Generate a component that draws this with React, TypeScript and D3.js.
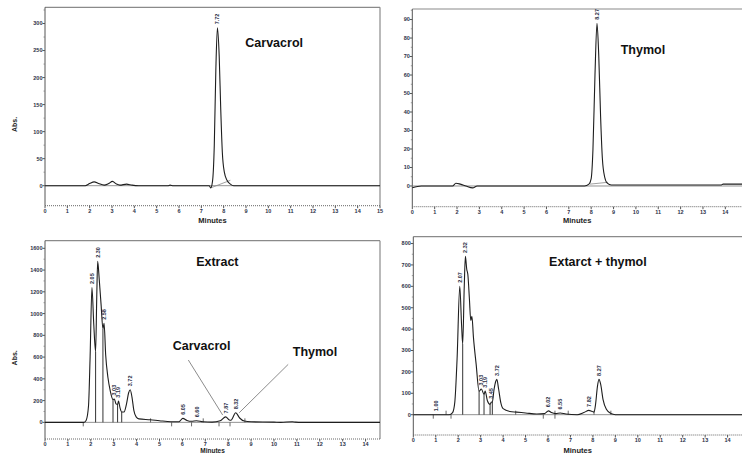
import React from 'react';
import * as d3 from 'd3';

type Pt = [number, number];

// ---------- values (time in minutes, absorbance) ----------
const carvacrolTrace: Pt[] = [[0, 0], [1.8, 0], [2.0, 4], [2.2, 7], [2.4, 4], [2.65, 1], [2.85, 4], [3.02, 8], [3.2, 3], [3.35, 1], [3.65, 3], [3.9, 1], [4.2, 0], [5.5, 0], [5.6, 1], [5.75, 0], [7.35, 0], [7.42, -4], [7.5, 8], [7.58, 75], [7.65, 215], [7.72, 292], [7.8, 240], [7.87, 140], [7.94, 62], [8.03, 25], [8.15, 10], [8.3, 3], [8.45, 0], [15, 0]];
const carvacrolPeaks: [number, number, string][] = [[7.72, 292, '7.72']];
const carvacrolBase: [Pt, Pt][] = [[[7.42, -4], [8.3, 10]]];

const thymolTrace: Pt[] = [[0, -1], [0.4, 0], [1.8, 0], [1.95, 1.5], [2.15, 1], [2.4, 0], [2.7, -1], [2.9, 0], [7.7, 0], [7.9, 1], [8.0, 4], [8.08, 20], [8.17, 60], [8.26, 88], [8.34, 70], [8.42, 38], [8.5, 15], [8.6, 5], [8.72, 1.5], [8.9, 0.5], [13.8, 0.5], [13.9, 1], [15, 1]];
const thymolPeaks: [number, number, string][] = [[8.26, 88, '8.27']];
const thymolBase: [Pt, Pt][] = [[[7.95, 1], [8.75, 2]]];

const extractTrace: Pt[] = [[0, 0], [1.7, 0], [1.8, 20], [1.9, 150], [1.97, 600], [2.05, 1240], [2.13, 900], [2.21, 650], [2.26, 1150], [2.3, 1480], [2.37, 1310], [2.45, 1080], [2.53, 860], [2.58, 910], [2.65, 620], [2.75, 410], [2.85, 290], [2.97, 210], [3.03, 215], [3.1, 170], [3.17, 165], [3.21, 195], [3.28, 130], [3.35, 95], [3.45, 95], [3.56, 170], [3.65, 270], [3.72, 300], [3.8, 230], [3.88, 110], [3.98, 50], [4.1, 32], [4.6, 24], [5.0, 15], [5.5, 6], [5.85, 6], [6.02, 37], [6.2, 18], [6.4, 10], [6.62, 15], [6.9, 5], [7.3, 2], [7.65, 14], [7.89, 50], [8.05, 22], [8.12, 20], [8.33, 88], [8.5, 40], [8.7, 12], [9.0, 5], [10.0, 2], [10.3, 0], [10.8, 6], [10.95, 2], [11.2, 0], [14.63, 0]];
const extractPeaks: [number, number, string][] = [[2.05, 1240, '2.05'], [2.3, 1480, '2.30'], [2.58, 910, '2.58'], [3.03, 215, '3.03'], [3.2, 195, '3.19'], [3.72, 300, '3.72'], [6.04, 37, '6.05'], [6.62, 15, '6.60'], [7.89, 50, '7.87'], [8.33, 88, '8.32']];
const extractDrops: Pt[] = [[2.21, 650], [2.53, 860], [2.97, 210], [3.17, 165], [3.35, 95]];
const extractMarks: Pt[] = [[1.67, -1], [4.61, 1], [5.53, -1], [6.4, -1], [6.91, 1], [7.6, -1], [8.08, -1], [8.73, 1]];

const mixTrace: Pt[] = [[0, 0], [1.6, 0], [1.75, 10], [1.85, 60], [1.95, 260], [2.07, 600], [2.15, 420], [2.2, 330], [2.27, 600], [2.32, 740], [2.38, 680], [2.43, 655], [2.5, 540], [2.56, 440], [2.61, 460], [2.68, 360], [2.8, 235], [2.93, 110], [3.03, 120], [3.15, 95], [3.2, 110], [3.3, 65], [3.42, 48], [3.47, 58], [3.52, 60], [3.6, 120], [3.67, 155], [3.72, 165], [3.8, 120], [3.9, 55], [4.0, 28], [4.3, 15], [4.6, 12], [5.0, 8], [5.5, 3], [5.85, 5], [6.02, 18], [6.15, 10], [6.35, 5], [6.55, 8], [6.8, 3], [7.3, 0], [7.6, 10], [7.82, 20], [7.95, 16], [8.05, 12], [8.12, 50], [8.2, 130], [8.27, 165], [8.35, 140], [8.45, 72], [8.6, 25], [8.8, 5], [9.0, 0], [15, 0]];
const mixPeaks: [number, number, string][] = [[1.0, 0, '1.00'], [2.07, 600, '2.07'], [2.32, 740, '2.32'], [3.03, 120, '3.03'], [3.2, 110, '3.19'], [3.45, 58, '3.45'], [3.72, 165, '3.72'], [6.02, 18, '6.02'], [6.55, 8, '6.55'], [7.82, 20, '7.82'], [8.27, 165, '8.27']];
const mixDrops: Pt[] = [[2.2, 330], [2.93, 110], [3.15, 95], [3.42, 48], [3.52, 60]];
const mixMarks: Pt[] = [[0.89, -1], [1.46, 1], [1.68, -1], [4.56, 1], [5.79, -1], [6.31, -1], [6.31, 1], [6.9, 1], [8.05, 1], [8.8, 1]];

const ticks1 = [0, 50, 100, 150, 200, 250, 300];
const ticks2 = [0, 10, 20, 30, 40, 50, 60, 70, 80, 90];
const ticks3 = [0, 200, 400, 600, 800, 1000, 1200, 1400, 1600];
const ticks4 = [0, 100, 200, 300, 400, 500, 600, 700, 800];
const minuteTicks = d3.range(0, 16);

interface Note { text: string; at: Pt; to?: Pt; from?: Pt }
interface PanelCfg {
  left: number; right: number; top: number; bottom: number;
  xDomain: [number, number]; yDomain: [number, number];
  yTicks: number[]; trace: Pt[]; peaks: [number, number, string][];
  drops?: Pt[]; marks?: Pt[]; base?: [Pt, Pt][];
  title: string; titleAt: Pt; notes?: Note[];
  absLabel: boolean; frameRight: boolean; minutesY: number; minutesSize: number;
}

const W = 742;

const panels: PanelCfg[] = [
  { left: 45, right: 380, top: 7.3, bottom: 205.7, xDomain: [0, 15], yDomain: [-37, 330], yTicks: ticks1, trace: carvacrolTrace, peaks: carvacrolPeaks, base: carvacrolBase, title: 'Carvacrol', titleAt: [8.97, 256], absLabel: true, frameRight: true, minutesY: 222.5, minutesSize: 7.5 },
  { left: 412.3, right: 412.3 + 15 * 22.36, top: 9, bottom: 206.7, xDomain: [0, 15], yDomain: [-11.2, 95.7], yTicks: ticks2, trace: thymolTrace, peaks: thymolPeaks, base: thymolBase, title: 'Thymol', titleAt: [9.32, 71.3], absLabel: false, frameRight: false, minutesY: 222.5, minutesSize: 7.5 },
  { left: 45, right: 380, top: 240.7, bottom: 439, xDomain: [0, 14.63], yDomain: [-153, 1670], yTicks: ticks3, trace: extractTrace, peaks: extractPeaks, drops: extractDrops, marks: extractMarks, title: 'Extract', titleAt: [6.6, 1437], absLabel: true, frameRight: true, minutesY: 453.2, minutesSize: 6.5,
    notes: [{ text: 'Carvacrol', at: [5.58, 664], from: [6.26, 573], to: [7.76, 67] }, { text: 'Thymol', at: [10.82, 611], from: [10.62, 533], to: [8.48, 88] }] },
  { left: 413.3, right: 413.3 + 15 * 22.45, top: 236.7, bottom: 435, xDomain: [0, 15], yDomain: [-95, 832], yTicks: ticks4, trace: mixTrace, peaks: mixPeaks, drops: mixDrops, marks: mixMarks, title: 'Extarct + thymol', titleAt: [6.05, 697], absLabel: false, frameRight: false, minutesY: 452.5, minutesSize: 7.5 },
];

const font = 'Liberation Sans, Arial, sans-serif';
const tickColor = '#2c3148';

function Panel({ p }: { p: PanelCfg }) {
  const x = d3.scaleLinear().domain(p.xDomain).range([p.left, p.right]);
  const y = d3.scaleLinear().domain(p.yDomain).range([p.bottom, p.top]);
  const line = d3.line<Pt>().x(d => x(d[0])).y(d => y(d[1])).curve(d3.curveMonotoneX);
  const step = p.yTicks[1] - p.yTicks[0];
  const minor = p.yTicks.map(t => t + step / 2).filter(t => y(t) > p.top);
  const xt = minuteTicks.filter(t => t <= p.xDomain[1] && x(t) < W - 4);
  const cx = (p.left + Math.min(p.right, W)) / 2;
  return (
    <g>
      {/* frame */}
      <line x1={p.left} x2={p.right} y1={p.top} y2={p.top} stroke="#8a8a8a" strokeWidth={1.2} />
      {p.frameRight && <line x1={p.right} x2={p.right} y1={p.top} y2={p.bottom} stroke="#8a8a8a" strokeWidth={1.2} />}
      <line x1={p.left} x2={p.left} y1={p.top} y2={p.bottom} stroke="#555" strokeWidth={1} />
      <line x1={p.left} x2={p.right} y1={p.bottom} y2={p.bottom} stroke="#666" strokeWidth={1} strokeDasharray="1 1" />

      {/* y axis */}
      {p.yTicks.map(t => (
        <g key={t}>
          <line x1={p.left - 2.5} x2={p.left} y1={y(t)} y2={y(t)} stroke="#555" />
          <text x={p.left - 2.5} y={y(t)} dy="0.35em" textAnchor="end" fontSize={5.5} fontWeight="bold" fontFamily={font} fill={tickColor}>{t}</text>
        </g>
      ))}
      {minor.map(t => <line key={'m' + t} x1={p.left - 1.5} x2={p.left} y1={y(t)} y2={y(t)} stroke="#777" strokeWidth={0.7} />)}

      {/* x axis */}
      {xt.map(t => (
        <g key={t}>
          <line x1={x(t)} x2={x(t)} y1={p.bottom} y2={p.bottom + 2.5} stroke="#555" />
          <text x={x(t)} y={p.bottom + 7.2} textAnchor="middle" fontSize={5.5} fontWeight="bold" fontFamily={font} fill={tickColor}>{t}</text>
        </g>
      ))}
      <text x={cx} y={p.minutesY} textAnchor="middle" fontSize={p.minutesSize} fontWeight="bold" fontFamily={font} fill="#222">Minutes</text>
      {p.absLabel && (
        <text transform={`translate(17,${(p.top + p.bottom) / 2 + 18}) rotate(-90)`} textAnchor="middle" fontSize={7} fontWeight="bold" fontFamily={font} fill="#222">Abs.</text>
      )}

      {/* zero line and integration baselines */}
      <line x1={x(p.xDomain[0])} x2={x(p.xDomain[1])} y1={y(0)} y2={y(0)} stroke="#777" strokeWidth={0.8} />
      {(p.base || []).map((b, i) => <line key={'b' + i} x1={x(b[0][0])} y1={y(b[0][1])} x2={x(b[1][0])} y2={y(b[1][1])} stroke="#888" strokeWidth={0.8} />)}
      {(p.drops || []).map((d, i) => <line key={'d' + i} x1={x(d[0])} x2={x(d[0])} y1={y(0)} y2={y(d[1])} stroke="#333" strokeWidth={1} />)}
      {(p.marks || []).map((m, i) => <line key={'k' + i} x1={x(m[0])} x2={x(m[0])} y1={y(0)} y2={y(0) - m[1] * 4} stroke="#444" strokeWidth={0.8} />)}

      {/* trace */}
      <path d={line(p.trace) || ''} fill="none" stroke="#1e1e1e" strokeWidth={1.1} strokeLinejoin="round" />

      {/* peak retention times */}
      {p.peaks.map(([t, v, s]) => (
        <text key={s + t} transform={`translate(${x(t)},${y(v) - 3.5}) rotate(-90)`} dy="0.35em" fontSize={5.5} fontWeight="bold" fontFamily={font} fill={tickColor}>{s}</text>
      ))}

      {/* annotations */}
      <text x={x(p.titleAt[0])} y={y(p.titleAt[1])} fontSize={12.5} fontWeight="bold" fontFamily={font} fill="#111">{p.title}</text>
      {(p.notes || []).map(n => (
        <g key={n.text}>
          <text x={x(n.at[0])} y={y(n.at[1])} fontSize={12.5} fontWeight="bold" fontFamily={font} fill="#111">{n.text}</text>
          {n.from && n.to && <line x1={x(n.from[0])} y1={y(n.from[1])} x2={x(n.to[0])} y2={y(n.to[1])} stroke="#8c8c8c" strokeWidth={1} />}
        </g>
      ))}
    </g>
  );
}

export default function App() {
  return (
    <svg width={W} height={455} style={{ position: 'absolute', left: 0, top: 0, background: '#fff' }}>
      <rect width={W} height={455} fill="#fff" />
      {panels.map((p, i) => <Panel key={i} p={p} />)}
    </svg>
  );
}
